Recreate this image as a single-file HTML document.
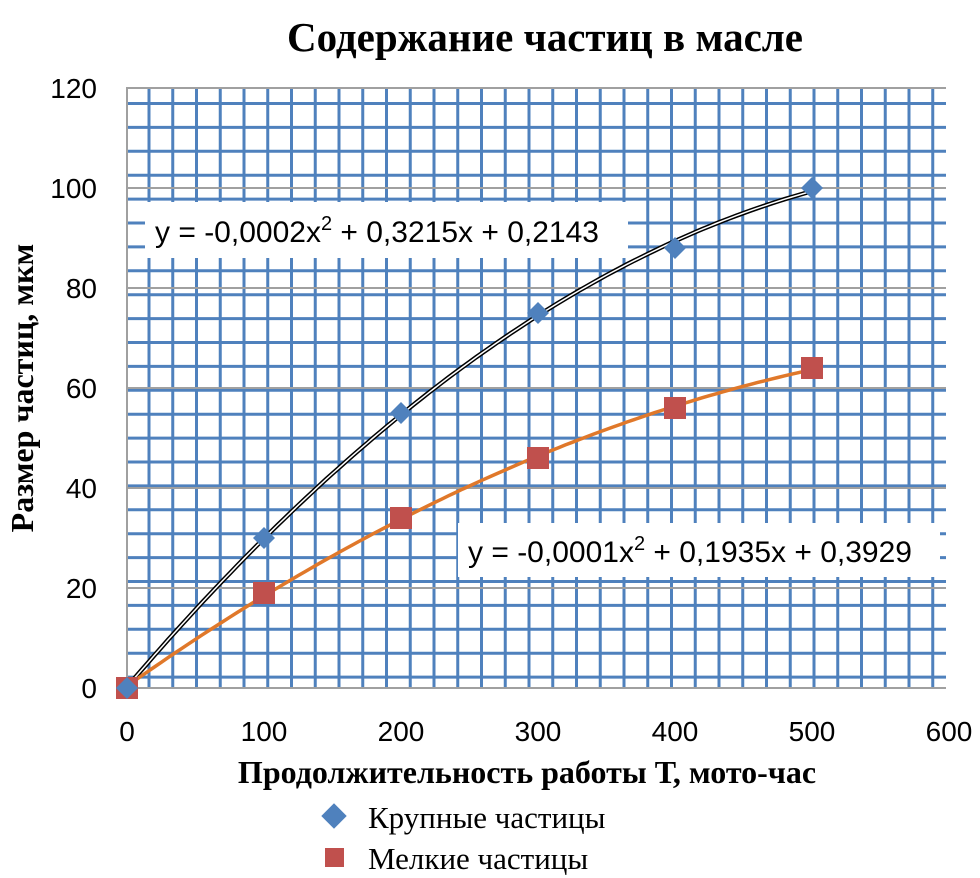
<!DOCTYPE html>
<html><head><meta charset="utf-8">
<style>
html,body{margin:0;padding:0;background:#fff;}
svg{display:block;}
</style></head>
<body>
<svg id="chart" width="980" height="878" viewBox="0 0 980 878" xmlns="http://www.w3.org/2000/svg">
<g id="grid"></g>
<g id="axes"></g>
<g id="trends"></g>
<g id="labels">
  <rect x="145" y="202" width="483" height="56" fill="#fff"/>
  <text x="155" y="242" font-family="Liberation Sans, sans-serif" font-size="30" fill="#000">y = -0,0002x<tspan dy="-12" font-size="20">2</tspan><tspan dy="12"> + 0,3215x + 0,2143</tspan></text>
  <rect x="458" y="523" width="482" height="54" fill="#fff"/>
  <text x="468" y="562" font-family="Liberation Sans, sans-serif" font-size="30" fill="#000">y = -0,0001x<tspan dy="-12" font-size="20">2</tspan><tspan dy="12"> + 0,1935x + 0,3929</tspan></text>
</g>
<g id="marks"></g>
<text x="545" y="51" text-anchor="middle" font-family="Liberation Serif, serif" font-weight="bold" font-size="41">Содержание частиц в масле</text>
<text x="527" y="783" text-anchor="middle" font-family="Liberation Serif, serif" font-weight="bold" font-size="32">Продолжительность работы Т, мото-час</text>
<text transform="translate(33,388) rotate(-90)" text-anchor="middle" font-family="Liberation Serif, serif" font-weight="bold" font-size="32">Размер частиц, мкм</text>
<g>
  <rect x="325" y="807" width="18" height="18" transform="rotate(45 334 816)" fill="#4f81bd"/>
  <text x="368" y="828" font-family="Liberation Serif, serif" font-size="31">Крупные частицы</text>
  <rect x="325" y="848" width="19" height="19" fill="#c0504d"/>
  <text x="368" y="869" font-family="Liberation Serif, serif" font-size="31">Мелкие частицы</text>
</g>
</svg>
<script>
const xValues = [0, 100, 200, 300, 400, 500];
const largeValues = [0, 30, 55, 75, 88, 100];
const smallValues = [0, 19, 34, 46, 56, 64];
const xTicks = [0, 100, 200, 300, 400, 500, 600];
const yTicks = [0, 20, 40, 60, 80, 100, 120];

const NS = 'http://www.w3.org/2000/svg';
const X0 = 127, X1 = 949, Y0 = 688, Y1 = 88;
const sx = v => X0 + (v - 0) / 600 * (X1 - X0);
const sy = v => Y0 - (v - 0) / 120 * (Y0 - Y1);
function mk(tag, attrs, parent) {
  const e = document.createElementNS(NS, tag);
  for (const k in attrs) e.setAttribute(k, attrs[k]);
  parent.appendChild(e);
  return e;
}
const grid = document.getElementById('grid');
for (let x = 149; x < 945; x += 23.75) {
  const l = mk('line', {x1: x, y1: Y1, x2: x, y2: Y0, stroke: '#4f81bd', 'stroke-width': 3}, grid);
  
  
}
for (let y = 103.5; y < 684; y += 23.9) {
  const l = mk('line', {x1: X0, y1: y, x2: 946, y2: y, stroke: '#4f81bd', 'stroke-width': 3}, grid);
  
  
}
const axes = document.getElementById('axes');
yTicks.forEach(t => {
  if (t > 0) {
    const l = mk('line', {x1: X0, y1: sy(t), x2: 946, y2: sy(t), stroke: '#a0a0a0', 'stroke-width': 2}, axes);
    
    
  }
  const tx = mk('text', {x: 97, y: sy(t) + 10, 'text-anchor': 'end', 'font-family': 'Liberation Sans, sans-serif', 'font-size': 28}, axes);
  tx.textContent = t;
  
  
});
xTicks.forEach(t => {
  const tx = mk('text', {x: sx(t), y: 741, 'text-anchor': 'middle', 'font-family': 'Liberation Sans, sans-serif', 'font-size': 28}, axes);
  tx.textContent = t;
  
  
});
const ax1 = mk('line', {x1: X0, y1: Y1 - 1, x2: X0, y2: Y0, stroke: '#a0a0a0', 'stroke-width': 2}, axes);


const ax2 = mk('line', {x1: X0, y1: Y0, x2: 946, y2: Y0, stroke: '#a0a0a0', 'stroke-width': 2}, axes);



function quadFit(xs, ys) {
  let S = [0,0,0,0,0], T = [0,0,0];
  xs.forEach((x, i) => { for (let p = 0; p < 5; p++) S[p] += Math.pow(x, p); for (let p = 0; p < 3; p++) T[p] += ys[i] * Math.pow(x, p); });
  const A = [[S[0],S[1],S[2],T[0]],[S[1],S[2],S[3],T[1]],[S[2],S[3],S[4],T[2]]];
  for (let i = 0; i < 3; i++) { for (let j = i + 1; j < 3; j++) { const f = A[j][i] / A[i][i]; for (let k = i; k < 4; k++) A[j][k] -= f * A[i][k]; } }
  const c = [0,0,0];
  for (let i = 2; i >= 0; i--) { let s = A[i][3]; for (let k = i + 1; k < 3; k++) s -= A[i][k] * c[k]; c[i] = s / A[i][i]; }
  return c;
}
function trendPath(ys) {
  const c = quadFit(xValues, ys);
  let d = '';
  for (let x = 0; x <= 500; x += 5) d += (x ? 'L' : 'M') + sx(x).toFixed(1) + ' ' + sy(c[0] + c[1] * x + c[2] * x * x).toFixed(1);
  return d;
}
const trends = document.getElementById('trends');
const dl = trendPath(largeValues);
const t1 = mk('path', {d: dl, fill: 'none', stroke: '#000', 'stroke-width': 4.5}, trends);


const t1b = mk('path', {d: dl, fill: 'none', stroke: '#fff', 'stroke-width': 1.5}, trends);


const t2 = mk('path', {d: trendPath(smallValues), fill: 'none', stroke: '#e0782a', 'stroke-width': 3.5}, trends);



const marks = document.getElementById('marks');
xValues.forEach((x, i) => {
  const cx = sx(x), cy = sy(smallValues[i]);
  const r = mk('rect', {x: cx - 11, y: cy - 11, width: 22, height: 22, fill: '#c0504d'}, marks);
  
  
});
xValues.forEach((x, i) => {
  const cx = sx(x), cy = sy(largeValues[i]);
  const p = mk('polygon', {points: `${cx},${cy-11} ${cx+11},${cy} ${cx},${cy+11} ${cx-11},${cy}`, fill: '#4f81bd'}, marks);
  
  
});
</script>
</body></html>
